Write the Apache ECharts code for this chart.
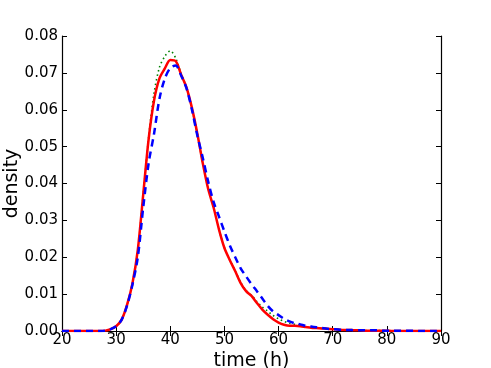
<!DOCTYPE html>
<html>
<head>
<meta charset="utf-8">
<script src="https://cdn.jsdelivr.net/npm/echarts@6/dist/echarts.min.js"></script>
<style>
  html, body { margin: 0; padding: 0; background: #fff; }
  #main { width: 491px; height: 368px; }
</style>
</head>
<body>
<div id="main"></div>
<script>
// hours, 20 .. 90
var hours = [];
for (var h = 20; h <= 90; h++) hours.push(h);

// red solid
var redVals = [
  0, 0, 0, 0, 0, 0, 0, 0, 0.0001, 0.0005,            // 20-29
  0.0013, 0.0030, 0.0070, 0.0128, 0.0220, 0.0370, 0.0520, 0.0625, 0.0685, 0.0712, // 30-39
  0.0735, 0.0732, 0.0695, 0.0660, 0.0605, 0.0535, 0.0455, 0.0385, 0.0335, 0.0275, // 40-49
  0.0225, 0.0192, 0.0162, 0.0130, 0.0108, 0.0095, 0.0076, 0.0058, 0.0044, 0.0032, // 50-59
  0.0023, 0.0017, 0.0014, 0.0014, 0.0013, 0.0011, 0.0009, 0.0008, 0.0007, 0.0006, // 60-69
  0.0005, 0.0004, 0.0003, 0.0003, 0.0002, 0.0002, 0.0001, 0.0001, 0.0001, 0.0001, // 70-79
  0.0001, 0, 0, 0, 0, 0, 0, 0, 0, 0, 0                                          // 80-90
];
// green dotted
var greenVals = [
  0, 0, 0, 0, 0, 0, 0, 0, 0.0001, 0.0005,
  0.0013, 0.0030, 0.0070, 0.0128, 0.0220, 0.0370, 0.0525, 0.0645, 0.0715, 0.0745,
  0.0760, 0.0740, 0.0698, 0.0660, 0.0603, 0.0533, 0.0455, 0.0385, 0.0335, 0.0275,
  0.0226, 0.0193, 0.0163, 0.0132, 0.0110, 0.0097, 0.0080, 0.0065, 0.0054, 0.0042,
  0.0033, 0.0026, 0.0021, 0.0018, 0.0015, 0.0012, 0.0010, 0.0009, 0.0007, 0.0006,
  0.0005, 0.0004, 0.0003, 0.0003, 0.0002, 0.0002, 0.0001, 0.0001, 0.0001, 0.0001,
  0.0001, 0, 0, 0, 0, 0, 0, 0, 0, 0, 0
];
// blue dashed
var blueVals = [
  0, 0, 0, 0, 0, 0, 0, 0, 0.0001, 0.0005,
  0.0013, 0.0030, 0.0068, 0.0125, 0.0200, 0.0335, 0.0455, 0.0535, 0.0630, 0.0685,
  0.0713, 0.0720, 0.0693, 0.0658, 0.0600, 0.0530, 0.0470, 0.0405, 0.0350, 0.0310,
  0.0270, 0.0232, 0.0200, 0.0170, 0.0148, 0.0127, 0.0108, 0.0088, 0.0068, 0.0053,
  0.0043, 0.0033, 0.0026, 0.0021, 0.0018, 0.0014, 0.0012, 0.0010, 0.0008, 0.0006,
  0.0005, 0.0004, 0.0003, 0.0003, 0.0002, 0.0002, 0.0002, 0.0002, 0.0002, 0.0001,
  0.0001, 0.0001, 0.0001, 0.0001, 0.0001, 0.0001, 0, 0, 0, 0, 0
];

function pairs(vals) {
  return hours.map(function (x, i) { return [x, vals[i]]; });
}

var font = 'DejaVu Sans';
var myChart = echarts.init(document.getElementById('main'));

var tickStyle = { show: true, inside: true, length: 5, lineStyle: { color: '#000', width: 1 } };
var lineAx = { show: true, lineStyle: { color: '#000', width: 1.2 } };

var option = {
  animation: false,
  backgroundColor: '#fff',
  grid: { left: 62, right: 50, top: 36, bottom: 37, outerBoundsMode: 'none', containLabel: false },
  xAxis: [
    {
      type: 'value', min: 20, max: 90, interval: 10,
      name: 'time (h)', nameLocation: 'middle', nameGap: 21, nameMoveOverlap: false,
      nameTextStyle: { fontFamily: font, fontSize: 19, color: '#000' },
      axisLine: lineAx, axisTick: tickStyle, splitLine: { show: false },
      axisLabel: { fontFamily: font, fontSize: 15, color: '#000', margin: 2 }
    },
    {
      type: 'value', min: 20, max: 90, interval: 10, position: 'top',
      axisLine: lineAx, axisTick: tickStyle, splitLine: { show: false },
      axisLabel: { show: false }
    }
  ],
  yAxis: [
    {
      type: 'value', min: 0, max: 0.08, interval: 0.01,
      name: 'density', nameLocation: 'middle', nameGap: 40, nameMoveOverlap: false,
      nameTextStyle: { fontFamily: font, fontSize: 19, color: '#000' },
      axisLine: lineAx, axisTick: tickStyle, splitLine: { show: false },
      axisLabel: {
        fontFamily: font, fontSize: 15, color: '#000', margin: 4,
        formatter: function (v) { return v.toFixed(2); }
      }
    },
    {
      type: 'value', min: 0, max: 0.08, interval: 0.01, position: 'right',
      axisLine: lineAx, axisTick: tickStyle, splitLine: { show: false },
      axisLabel: { show: false }
    }
  ],
  series: [
    {
      type: 'line', data: pairs(greenVals), showSymbol: false, smooth: 0.3,
      lineStyle: { color: '#008000', width: 1.6, type: [1.5, 3] }, z: 2
    },
    {
      type: 'line', data: pairs(redVals), showSymbol: false, smooth: 0.3,
      lineStyle: { color: '#ff0000', width: 2.5 }, z: 3
    },
    {
      type: 'line', data: pairs(blueVals), showSymbol: false, smooth: 0.3,
      lineStyle: { color: '#0000ff', width: 2.5, type: [7, 5] }, z: 4
    }
  ]
};
myChart.setOption(option);
</script>
</body>
</html>
